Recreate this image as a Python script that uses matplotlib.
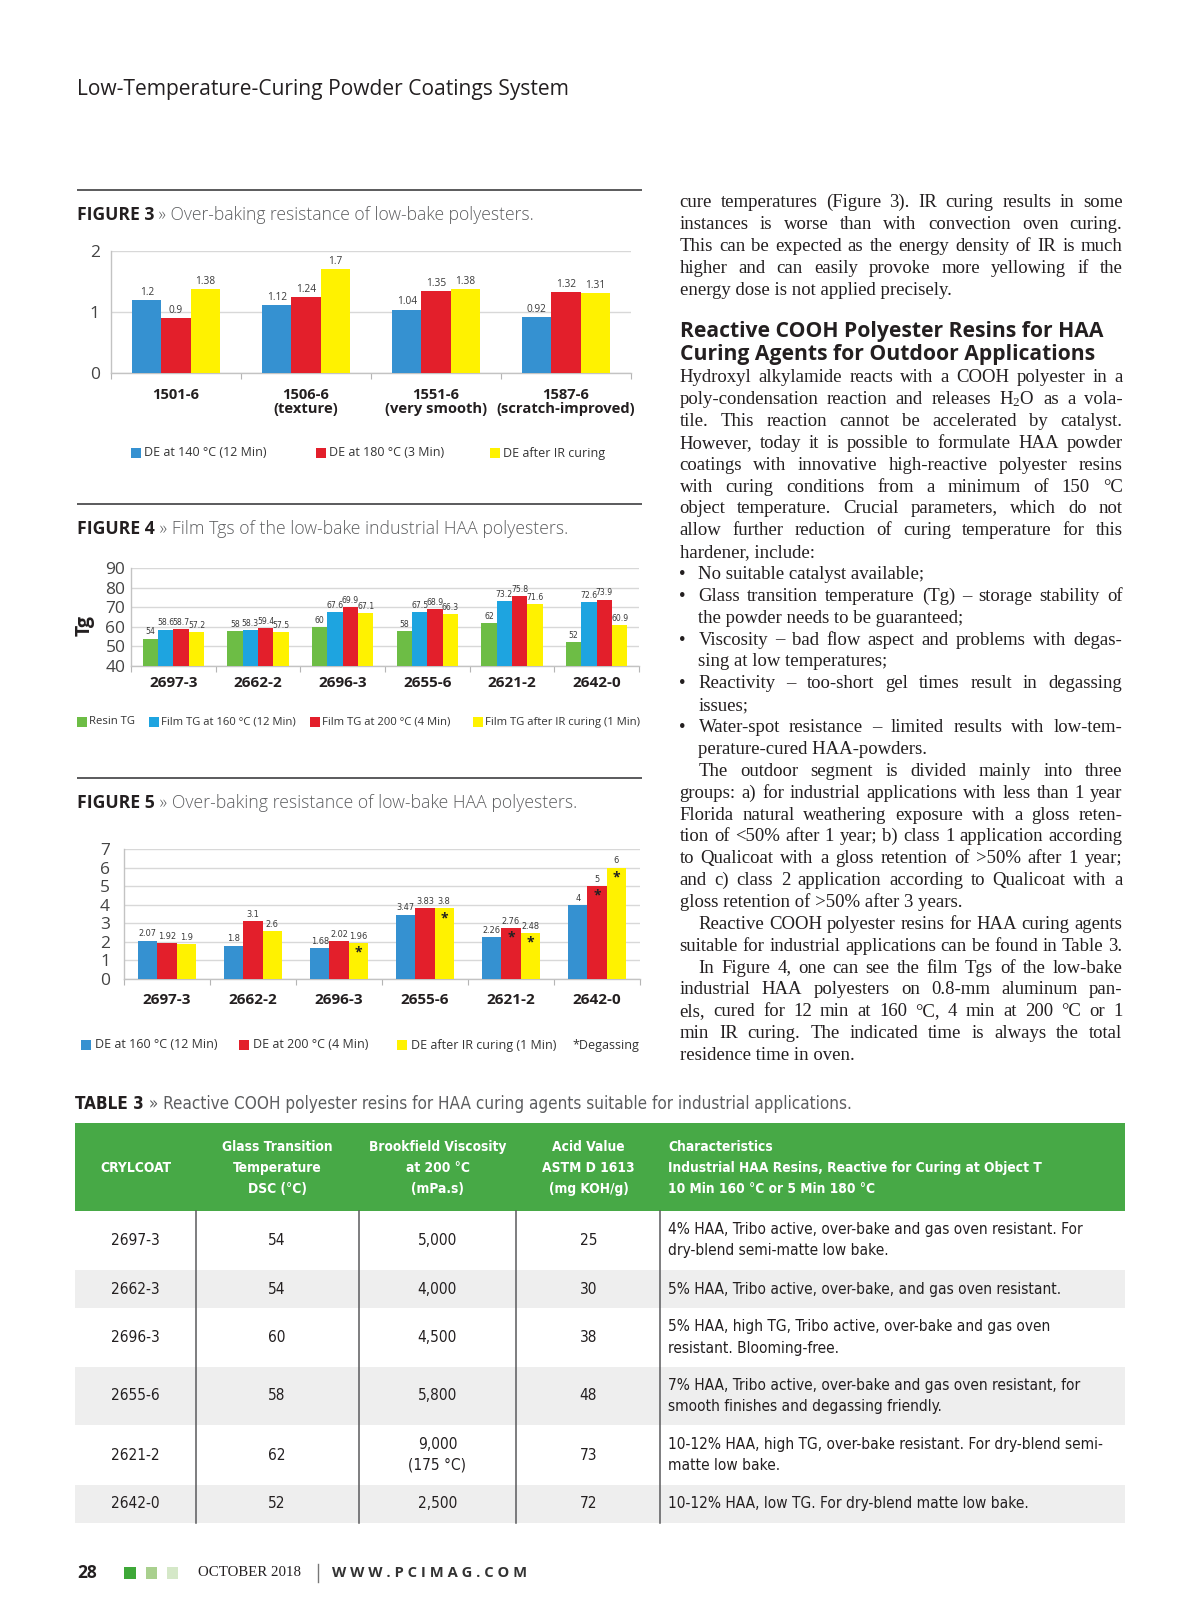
import numpy as np
import matplotlib
matplotlib.use("Agg")
import matplotlib.pyplot as plt
from matplotlib.patches import Rectangle
from matplotlib import font_manager as fm
import logging
logging.getLogger('matplotlib.font_manager').setLevel(logging.ERROR)

plt.rcParams['mathtext.fontset'] = 'custom'
plt.rcParams['mathtext.rm'] = 'Liberation Serif'
plt.rcParams['mathtext.default'] = 'rm'

# ----------------------------------------------------------------- data
fig3_categories = ["1501-6", "1506-6\n(texture)", "1551-6\n(very smooth)", "1587-6\n(scratch-improved)"]
fig3_series = ["DE at 140 °C (12 Min)", "DE at 180 °C (3 Min)", "DE after IR curing"]
fig3_de_140 = [1.2, 1.12, 1.04, 0.92]
fig3_de_180 = [0.9, 1.24, 1.35, 1.32]
fig3_de_ir = [1.38, 1.7, 1.38, 1.31]
fig3_yticks = [0, 1, 2]

fig4_categories = ["2697-3", "2662-2", "2696-3", "2655-6", "2621-2", "2642-0"]
fig4_series = ["Resin TG", "Film TG at 160 °C (12 Min)", "Film TG at 200 °C (4 Min)",
               "Film TG after IR curing (1 Min)"]
fig4_resin_tg = [54, 58, 60, 58, 62, 52]
fig4_film_160 = [58.6, 58.3, 67.6, 67.5, 73.2, 72.6]
fig4_film_200 = [58.7, 59.4, 69.9, 68.9, 75.8, 73.9]
fig4_film_ir = [57.2, 57.5, 67.1, 66.3, 71.6, 60.9]
fig4_yticks = [40, 50, 60, 70, 80, 90]

fig5_categories = ["2697-3", "2662-2", "2696-3", "2655-6", "2621-2", "2642-0"]
fig5_series = ["DE at 160 °C (12 Min)", "DE at 200 °C (4 Min)", "DE after IR curing (1 Min)"]
fig5_de_160 = [2.07, 1.8, 1.68, 3.47, 2.26, 4]
fig5_de_200 = [1.92, 3.1, 2.02, 3.83, 2.76, 5]
fig5_de_ir = [1.9, 2.6, 1.96, 3.8, 2.48, 6]
fig5_degas_200 = [False, False, False, False, True, True]
fig5_degas_ir = [False, False, True, True, True, True]
fig5_yticks = [0, 1, 2, 3, 4, 5, 6, 7]

table3_header = [["CRYLCOAT"],
                 ["Glass Transition", "Temperature", "DSC (°C)"],
                 ["Brookfield Viscosity", "at 200 °C", "(mPa.s)"],
                 ["Acid Value", "ASTM D 1613", "(mg KOH/g)"],
                 ["Characteristics", "Industrial HAA Resins, Reactive for Curing at Object T",
                  "10 Min 160 °C or 5 Min 180 °C"]]
table3_crylcoat = ["2697-3", "2662-3", "2696-3", "2655-6", "2621-2", "2642-0"]
table3_tg = ["54", "54", "60", "58", "62", "52"]
table3_viscosity = ["5,000", "4,000", "4,500", "5,800", "9,000\n(175 °C)", "2,500"]
table3_acid = ["25", "30", "38", "48", "73", "72"]
table3_characteristics = [
    "4% HAA, Tribo active, over-bake and gas oven resistant. For\ndry-blend semi-matte low bake.",
    "5% HAA, Tribo active, over-bake, and gas oven resistant.",
    "5% HAA, high TG, Tribo active, over-bake and gas oven\nresistant. Blooming-free.",
    "7% HAA, Tribo active, over-bake and gas oven resistant, for\nsmooth finishes and degassing friendly.",
    "10-12% HAA, high TG, over-bake resistant. For dry-blend semi-\nmatte low bake.",
    "10-12% HAA, low TG. For dry-blend matte low bake.",
]

# ----------------------------------------------------------------- text content
para_a = [
    ("cure temperatures (Figure 3). IR curing results in some", True),
    ("instances is worse than with convection oven curing.", True),
    ("This can be expected as the energy density of IR is much", True),
    ("higher and can easily provoke more yellowing if the", True),
    ("energy dose is not applied precisely.", False),
]
heading = ["Reactive COOH Polyester Resins for HAA", "Curing Agents for Outdoor Applications"]
# (text, justified, style) style: 0 normal, 1 bullet, 2 indented
body = [
    ("Hydroxyl alkylamide reacts with a COOH polyester in a", True, 0),
    ("poly-condensation reaction and releases H$_2$O as a vola-", True, 0),
    ("tile. This reaction cannot be accelerated by catalyst.", True, 0),
    ("However, today it is possible to formulate HAA powder", True, 0),
    ("coatings with innovative high-reactive polyester resins", True, 0),
    ("with curing conditions from a minimum of 150 °C", True, 0),
    ("object temperature. Crucial parameters, which do not", True, 0),
    ("allow further reduction of curing temperature for this", True, 0),
    ("hardener, include:", False, 0),
    ("No suitable catalyst available;", False, 1),
    ("Glass transition temperature (Tg) – storage stability of", True, 1),
    ("the powder needs to be guaranteed;", False, 2),
    ("Viscosity – bad flow aspect and problems with degas-", True, 1),
    ("sing at low temperatures;", False, 2),
    ("Reactivity – too-short gel times result in degassing", True, 1),
    ("issues;", False, 2),
    ("Water-spot resistance – limited results with low-tem-", True, 1),
    ("perature-cured HAA-powders.", False, 2),
    ("The outdoor segment is divided mainly into three", True, 2),
    ("groups: a) for industrial applications with less than 1 year", True, 0),
    ("Florida natural weathering exposure with a gloss reten-", True, 0),
    ("tion of <50% after 1 year; b) class 1 application according", True, 0),
    ("to Qualicoat with a gloss retention of >50% after 1 year;", True, 0),
    ("and c) class 2 application according to Qualicoat with a", True, 0),
    ("gloss retention of >50% after 3 years.", False, 0),
    ("Reactive COOH polyester resins for HAA curing agents", True, 2),
    ("suitable for industrial applications can be found in Table 3.", True, 0),
    ("In Figure 4, one can see the film Tgs of the low-bake", True, 2),
    ("industrial HAA polyesters on 0.8-mm aluminum pan-", True, 0),
    ("els, cured for 12 min at 160 °C, 4 min at 200 °C or 1", True, 0),
    ("min IR curing. The indicated time is always the total", True, 0),
    ("residence time in oven.", False, 0),
]

# ----------------------------------------------------------------- styles
SANS = ['Open Sans', 'DejaVu Sans']
SERIF = ['Liberation Serif', 'DejaVu Serif']
_fonts = {(f.name, f.stretch) for f in fm.fontManager.ttflist}
_names = {n for n, s in _fonts}
if 'Liberation Sans Narrow' in _names:
    NKW = dict(family=['Liberation Sans Narrow', 'DejaVu Sans'])
elif ('DejaVu Sans', 'condensed') in _fonts or ('DejaVu Sans', 'semi-condensed') in _fonts:
    NKW = dict(family=['DejaVu Sans'], stretch='condensed')
else:
    NKW = dict(family=['Roboto', 'DejaVu Sans'])

DARK = '#231f20'
GRAY = '#5d5e60'
BLUE = '#3591d1'
CYAN = '#1ea4e0'
RED = '#e31f2b'
YELLOW = '#fff200'
GREEN = '#6dbd45'
TGREEN = '#47a946'

W, H = 1200, 1613
fig = plt.figure(figsize=(W / 100, H / 100), dpi=100)
fig.patch.set_facecolor('white')
page = fig.add_axes([0, 0, 1, 1])
page.set_xlim(0, W)
page.set_ylim(H, 0)
page.axis('off')
R = fig.canvas.get_renderer()


def measure(s, **kw):
    t = page.text(0, 0, s, **kw)
    w = t.get_window_extent(R).width
    t.remove()
    return w


def fit(s, target, **kw):
    return 10.0 * target / measure(s, fontsize=10, **kw)


def runs(x, y, parts, target):
    tot = sum(measure(s, fontsize=10, **kw) for s, kw in parts)
    fs = 10.0 * target / tot
    for s, kw in parts:
        page.text(x, y, s, fontsize=fs, va='center', ha='left', **kw)
        x += measure(s, fontsize=fs, **kw)


def rule(y, x0=77, x1=642):
    page.plot([x0, x1], [y, y], color='#4d4d4f', lw=1.3, solid_capstyle='butt')


def caption(y, label, rest, target):
    runs(77, y, [(label, dict(family=SANS, weight='bold', color=DARK)),
                 (" » " + rest, dict(family=SANS, weight='light', color=GRAY))], target)


def legend(y, xs, labels, colors, fs, gap=13, sq=10):
    for x, lab, col in zip(xs, labels, colors):
        page.add_patch(Rectangle((x, y - sq / 2), sq, sq, color=col, lw=0))
        page.text(x + gap, y, lab, va='center', ha='left', fontsize=fs, color='#333333', family=SANS)


def bar_chart(box, cats, series, colors, width, ylim, yticks, tick_pad, cat_pad,
              val_kw, val_fs, marks=None, cat_fs=11.0, tick_fs=12.5):
    x0, y0, x1, y1 = box
    ax = fig.add_axes([x0 / W, 1 - y1 / H, (x1 - x0) / W, (y1 - y0) / H])
    pos = np.arange(len(cats))
    n = len(series)
    for i, (vals, col) in enumerate(zip(series, colors)):
        xs = pos + (i - (n - 1) / 2) * width
        bars = ax.bar(xs, vals, width, color=col, edgecolor='none', zorder=3)
        ax.bar_label(bars, labels=[f"{v:g}" for v in vals], padding=1.5, fontsize=val_fs,
                     color='#3a3a3a', **val_kw)
        if marks is not None and marks[i] is not None:
            for xx, v, m in zip(xs, vals, marks[i]):
                if m:
                    ax.annotate('*', (xx, v), xytext=(0, -7), textcoords='offset points',
                                ha='center', va='center', fontsize=10, fontweight='bold',
                                color='#222222', zorder=5, family=SANS)
    ax.set_xlim(-0.5, len(cats) - 0.5)
    ax.set_ylim(*ylim)
    ax.set_yticks(yticks)
    ax.set_yticklabels([f"{t:g}" for t in yticks], family=SANS)
    ax.set_xticks(pos)
    ax.set_xticklabels(cats, family=SANS, fontweight='bold', color=DARK, linespacing=1.05)
    ax.set_xticks(np.arange(len(cats) + 1) - 0.5, minor=True)
    ax.tick_params(axis='x', which='major', length=0, pad=cat_pad, labelsize=cat_fs)
    ax.tick_params(axis='x', which='minor', length=4, width=0.8, color='#b5b5b5')
    ax.tick_params(axis='y', length=0, pad=tick_pad, labelsize=tick_fs, labelcolor='#444444')
    ax.yaxis.grid(True, color='#d8d8d8', lw=1)
    ax.set_axisbelow(True)
    for s in ['top', 'right']:
        ax.spines[s].set_visible(False)
    for s in ['left', 'bottom']:
        ax.spines[s].set_color('#c3c3c3')
        ax.spines[s].set_linewidth(1)
    ax.patch.set_alpha(0)
    return ax


# ----------------------------------------------------------------- page header
fs_head = fit("Low-Temperature-Curing Powder Coatings System", 494, family=SANS)
page.text(77, 89, "Low-Temperature-Curing Powder Coatings System", fontsize=fs_head,
          va='center', ha='left', family=SANS, color=DARK)

# ----------------------------------------------------------------- figure 3
rule(190)
caption(215.5, "FIGURE 3", "Over-baking resistance of low-bake polyesters.", 458)
bar_chart((111, 251, 631, 373), fig3_categories, [fig3_de_140, fig3_de_180, fig3_de_ir],
          [BLUE, RED, YELLOW], 0.225, (0, 2), fig3_yticks, 8, 10.5, dict(family=SANS), 7.3,
          cat_fs=10.6)
fs_l3 = fit(fig3_series[0], 122, family=SANS)
legend(453, [131, 316, 490], fig3_series, [BLUE, RED, YELLOW], fs_l3)

# ----------------------------------------------------------------- figure 4
rule(504)
caption(529.5, "FIGURE 4", "Film Tgs of the low-bake industrial HAA polyesters.", 489)
ax4 = bar_chart((131, 568, 639, 666), fig4_categories,
                [fig4_resin_tg, fig4_film_160, fig4_film_200, fig4_film_ir],
                [GREEN, CYAN, RED, YELLOW], 0.182, (40, 90), fig4_yticks, 4, 7.5, NKW, 6.2)
ax4.set_ylabel("Tg", family=SANS, fontweight='bold', fontsize=14, color=DARK, va='center')
ax4.yaxis.set_label_coords((85 - 131) / (639 - 131), (666 - 625) / (666 - 568))
fs_l4 = fit(fig4_series[3], 156, family=SANS)
legend(722, [77, 149, 310, 473], fig4_series, [GREEN, CYAN, RED, YELLOW], fs_l4, gap=12)

# ----------------------------------------------------------------- figure 5
rule(778)
caption(803.5, "FIGURE 5", "Over-baking resistance of low-bake HAA polyesters.", 497)
bar_chart((124, 849, 640, 979), fig5_categories, [fig5_de_160, fig5_de_200, fig5_de_ir],
          [BLUE, RED, YELLOW], 0.223, (0, 7), fig5_yticks, 10, 10, NKW, 6.6,
          marks=[None, fig5_degas_200, fig5_degas_ir])
fs_l5 = fit(fig5_series[2], 145, family=SANS)
legend(1045, [81, 239, 397], fig5_series, [BLUE, RED, YELLOW], fs_l5, gap=14)
page.text(572, 1045, "*Degassing", va='center', ha='left', fontsize=fs_l5, color='#333333', family=SANS)

# ----------------------------------------------------------------- right column
XL, XR, XI = 679.5, 1122.5, 698.5
# the largest size at which every justified line still fits its measure
fs_body = min([fit(s, (XR - XL) * 0.995, family=SERIF) for s, j in para_a if j] +
              [fit(s, (XR - (XL if st == 0 else XI)) * 0.995, family=SERIF) for s, j, st in body if j])
bkw = dict(family=SERIF, fontsize=fs_body, color=DARK)


def draw_line(x0, x1, y, s, justify):
    if not justify:
        page.text(x0, y, s, va='baseline', ha='left', **bkw)
        return
    words = s.split(' ')
    widths = [measure(w, **bkw) for w in words]
    gap = (x1 - x0 - sum(widths)) / (len(words) - 1)
    x = x0
    for w, wd in zip(words, widths):
        page.text(x, y, w, va='baseline', ha='left', **bkw)
        x += wd + gap


for i, (s, j) in enumerate(para_a):
    draw_line(XL, XR, 206.7 + i * 22.0, s, j)

fs_h = fit(heading[0], 424, family=SANS, weight='bold')
for i, s in enumerate(heading):
    page.text(XL, 337.3 + i * 22.5, s, fontsize=fs_h, family=SANS, weight='bold',
              color=DARK, va='baseline', ha='left')

for k, (s, j, st) in enumerate(body):
    y = 382.3 + k * 21.86
    x0 = XL if st == 0 else XI
    if st == 1:
        page.text(682.5, y, "•", va='baseline', ha='center', **bkw)
    draw_line(x0, XR, y, s, j)

# ----------------------------------------------------------------- table 3
runs(75, 1104, [("TABLE 3", dict(weight='bold', color=DARK, **NKW)),
                (" » Reactive COOH polyester resins for HAA curing agents suitable for industrial applications.",
                 dict(color=GRAY, **NKW))], 778)
TX0, TX1 = 75, 1125
page.add_patch(Rectangle((TX0, 1123), TX1 - TX0, 1210.7 - 1123, color=TGREEN, lw=0))
row_edges = [1210.7, 1270, 1308.3, 1366.7, 1425, 1485, 1522.7]
for r in range(len(table3_crylcoat)):
    if r % 2 == 1:
        page.add_patch(Rectangle((TX0, row_edges[r]), TX1 - TX0, row_edges[r + 1] - row_edges[r],
                                 color='#eeeeee', lw=0))
for xd in [196.4, 358.7, 516.2, 660.3]:
    page.plot([xd, xd], [row_edges[0], row_edges[-1]], color='#5a5a5c', lw=1.1)

col_x = [135.6, 277, 437.5, 588.5, 668.4]
col_ha = ['center', 'center', 'center', 'center', 'left']
fs_th = fit(table3_header[4][1], 374, weight='bold', **NKW)
for c, lines in enumerate(table3_header):
    n = len(lines)
    for i, s in enumerate(lines):
        y = 1168 + (i - (n - 1) / 2) * 20.7
        page.text(col_x[c], y, s, fontsize=fs_th, weight='bold', color='white',
                  va='center', ha=col_ha[c], **NKW)

fs_td = fit(table3_characteristics[0].split('\n')[0], 416, **NKW)
columns = [table3_crylcoat, table3_tg, table3_viscosity, table3_acid, table3_characteristics]
for r in range(len(table3_crylcoat)):
    yc = (row_edges[r] + row_edges[r + 1]) / 2
    for c, col in enumerate(columns):
        lines = col[r].split('\n')
        n = len(lines)
        for i, s in enumerate(lines):
            y = yc + (i - (n - 1) / 2) * 21
            page.text(col_x[c], y, s, fontsize=fs_td, color=DARK,
                      va='center', ha=col_ha[c], **NKW)

# ----------------------------------------------------------------- footer
page.text(77, 1573, "28", fontsize=12.5, family=SANS, weight='bold', color=DARK, va='center', ha='left')
for x, c in zip([124, 145.5, 166.5], ['#3ea838', '#a9d08e', '#d5e8c8']):
    page.add_patch(Rectangle((x, 1567), 11.5, 11.5, color=c, lw=0))
fs_oct = fit("OCTOBER 2018", 103, family=SERIF)
page.text(198, 1573, "OCTOBER 2018", fontsize=fs_oct, family=SERIF, color=DARK, va='center', ha='left')
page.plot([318, 318], [1564, 1582], color='#777777', lw=1)
fs_www = fit("W W W . P C I M A G . C O M", 195, family=SANS, weight='bold')
page.text(332, 1573, "W W W . P C I M A G . C O M", fontsize=fs_www, family=SANS, weight='bold',
          color='#333333', va='center', ha='left')

fig.savefig("out.png", dpi=100, facecolor='white')
